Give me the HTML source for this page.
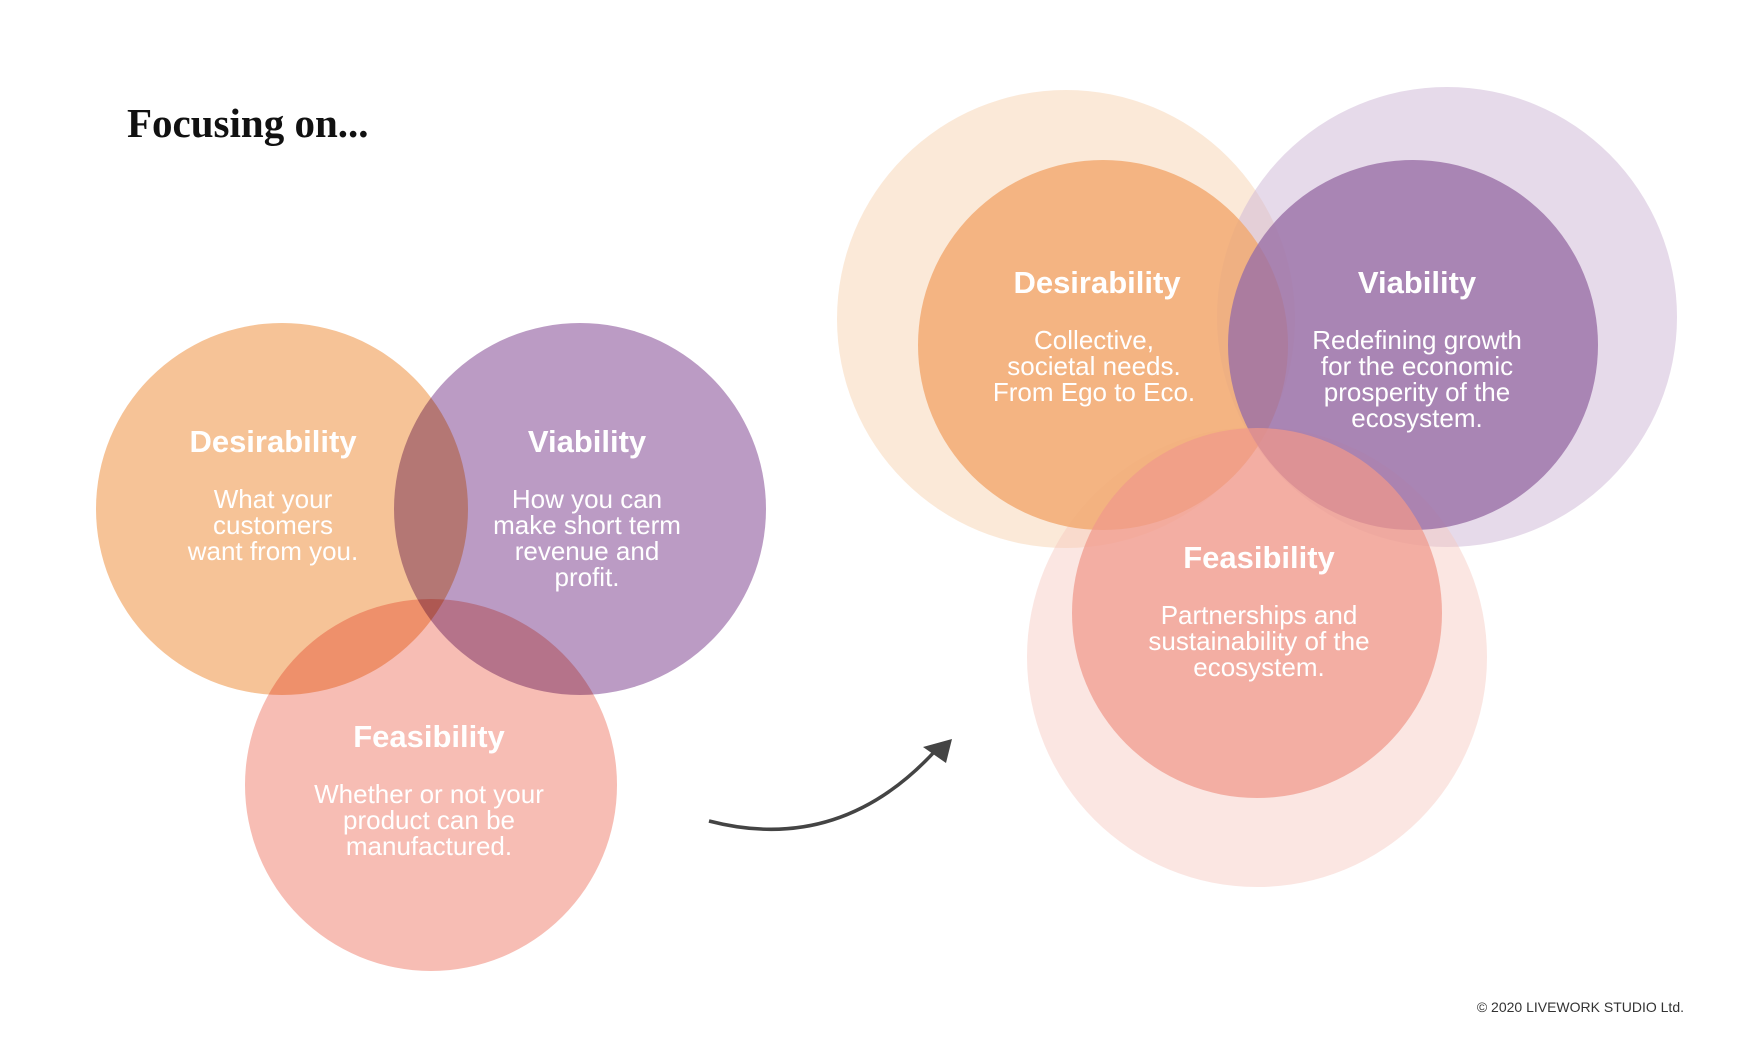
<!DOCTYPE html>
<html><head><meta charset="utf-8"><style>
html,body{margin:0;padding:0;background:#fff;}
svg{display:block;}
.t{font-family:"Liberation Sans",sans-serif;font-weight:bold;fill:#fff;font-size:31px;text-anchor:middle;}
.b{font-family:"Liberation Sans",sans-serif;fill:#fff;font-size:26px;text-anchor:middle;}
.m{mix-blend-mode:multiply;}
</style></head><body>
<svg width="1760" height="1056" viewBox="0 0 1760 1056" xmlns="http://www.w3.org/2000/svg">
<rect width="1760" height="1056" fill="#fff"/>
<text x="127" y="137" font-family="Liberation Serif,serif" font-weight="bold" font-size="41" fill="#111">Focusing on...</text>

<!-- left venn -->
<g>
<circle class="m" cx="282" cy="509" r="186" fill="#f6c397"/>
<circle class="m" cx="580" cy="509" r="186" fill="#bb9bc4"/>
<circle class="m" cx="431" cy="785" r="186" fill="#f7bdb4"/>
</g>
<text class="t" x="273" y="452">Desirability</text>
<text class="b" x="273" y="508">What your</text>
<text class="b" x="273" y="534">customers</text>
<text class="b" x="273" y="560">want from you.</text>
<text class="t" x="587" y="452">Viability</text>
<text class="b" x="587" y="508">How you can</text>
<text class="b" x="587" y="534">make short term</text>
<text class="b" x="587" y="560">revenue and</text>
<text class="b" x="587" y="586">profit.</text>
<text class="t" x="429" y="747">Feasibility</text>
<text class="b" x="429" y="803">Whether or not your</text>
<text class="b" x="429" y="829">product can be</text>
<text class="b" x="429" y="855">manufactured.</text>

<!-- arrow -->
<path d="M709 821 Q 840 855 936 750" fill="none" stroke="#444" stroke-width="3.5"/>
<polygon points="952,739 946,763 923,747" fill="#444"/>

<!-- right venn -->
<circle cx="1066" cy="319" r="229" fill="#f8d3b1" opacity="0.5"/>
<circle cx="1447" cy="317" r="230" fill="#cdb5d5" opacity="0.5"/>
<circle cx="1257" cy="657" r="230" fill="#f6c7be" opacity="0.45"/>
<circle cx="1103" cy="345" r="185" fill="#f2a86f" opacity="0.82"/>
<circle cx="1413" cy="345" r="185" fill="#9a6fa6" opacity="0.8"/>
<circle cx="1257" cy="613" r="185" fill="#f0998a" opacity="0.72"/>
<text class="t" x="1097" y="293">Desirability</text>
<text class="b" x="1094" y="349">Collective,</text>
<text class="b" x="1094" y="375">societal needs.</text>
<text class="b" x="1094" y="401">From Ego to Eco.</text>
<text class="t" x="1417" y="293">Viability</text>
<text class="b" x="1417" y="349">Redefining growth</text>
<text class="b" x="1417" y="375">for the economic</text>
<text class="b" x="1417" y="401">prosperity of the</text>
<text class="b" x="1417" y="427">ecosystem.</text>
<text class="t" x="1259" y="568">Feasibility</text>
<text class="b" x="1259" y="624">Partnerships and</text>
<text class="b" x="1259" y="650">sustainability of the</text>
<text class="b" x="1259" y="676">ecosystem.</text>

<text x="1684" y="1012" text-anchor="end" font-family="Liberation Sans,sans-serif" font-size="14" fill="#333">© 2020 LIVEWORK STUDIO Ltd.</text>
</svg>
</body></html>
